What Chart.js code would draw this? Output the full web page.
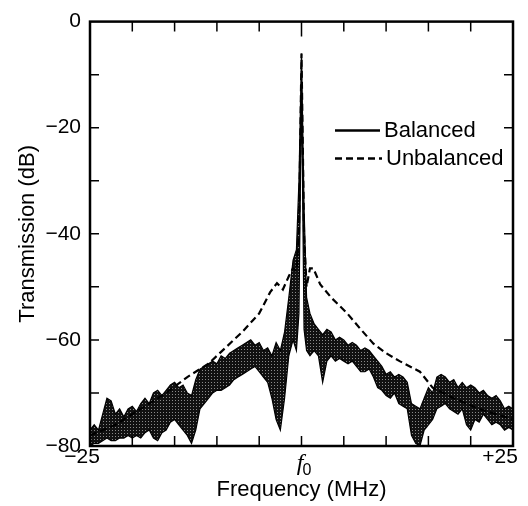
<!DOCTYPE html>
<html>
<head>
<meta charset="utf-8">
<script src="https://cdn.jsdelivr.net/npm/chart.js@4"></script>
<style>
  body { margin: 0; background: #fff; }
</style>
</head>
<body>
<canvas id="chart" width="528" height="506"></canvas>
<script>
// frequency offset from f0 (MHz) and the balanced trace envelope (dB)
const balFreq = [-25, -24.5, -24, -23.5, -23, -22.5, -22, -21.5, -21, -20.5, -20, -19.5, -19, -18.5, -18, -17.5, -17, -16.5, -16, -15.5, -15, -14.5, -14, -13.5, -13, -12.5, -12, -11.5, -11, -10.5, -10, -9.5, -9, -8.5, -8, -7.5, -7, -6.5, -6, -5.5, -5, -4.5, -4, -3.5, -3, -2.5, -2, -1.5, -1, -0.6, -0.3, 0, 0.3, 0.6, 1, 1.5, 2, 2.5, 3, 3.5, 4, 4.5, 5, 5.5, 6, 6.5, 7, 7.5, 8, 8.5, 9, 9.5, 10, 10.5, 11, 11.5, 12, 12.5, 13, 13.5, 14, 14.5, 15, 15.5, 16, 16.5, 17, 17.5, 18, 18.5, 19, 19.5, 20, 20.5, 21, 21.5, 22, 22.5, 23, 23.5, 24, 24.5, 25];
const balUpper = [-77, -76, -77, -74, -71, -71.5, -74, -73, -74.5, -73, -72.5, -73.5, -72, -71, -72, -70, -69.5, -70.5, -69.5, -68.5, -68, -69, -68.5, -70, -70.5, -67.5, -65.5, -65, -64.5, -64, -64.5, -63, -63.5, -62.5, -62, -61.5, -61, -60.5, -60, -61, -60.5, -62, -61.5, -63, -60.5, -62, -58.5, -52, -45, -43, -30, -6, -35, -52, -55, -57, -58, -59, -58, -58.5, -60, -59.5, -60, -61, -60.5, -61, -62, -61.5, -62, -63, -64, -65, -66.5, -66, -67, -66.5, -67, -68, -72, -72.5, -73, -71, -69, -70, -67, -66.5, -67, -68, -67.5, -69, -68, -69, -68.5, -69, -70, -69.5, -70.5, -71, -70.5, -71.5, -73, -72.5, -73];
const balLower = [-80, -79.5, -79.5, -79, -78.5, -79, -79, -78.5, -78.5, -78, -78.5, -78, -78.5, -77.5, -77, -78.5, -79, -77.5, -77, -75.5, -75, -76, -77, -78, -79.5, -77, -73, -72, -71, -70, -69.5, -69.5, -69, -68.5, -67.5, -67, -66.5, -66, -65.5, -65, -66, -67, -68, -71, -75, -77, -71, -63, -60, -62, -55, -12, -58, -62, -63, -62, -63, -68, -64, -63, -64, -63.5, -64, -64.5, -64, -65, -66, -66, -65.5, -67, -69, -69.5, -70.5, -71, -70, -72, -72.5, -73, -78, -79.5, -80, -77, -76, -75, -73, -72.5, -72, -73, -73.5, -74, -73, -76, -77, -75, -75.5, -74, -75, -76, -75.5, -76, -77, -76.5, -77];

// unbalanced trace
const unbFreq = [-25, -22, -19, -16, -13.5, -11, -9, -7, -5, -3.7, -2.9, -2.2, -1.5, -1, -0.6, -0.3, 0, 0.3, 0.6, 1, 1.4, 2.2, 3.5, 5.4, 7, 8.5, 10, 11.6, 14, 15.5, 18, 21, 25];
const unbDb = [-78, -76, -73, -70, -67, -64.5, -61.5, -58.5, -55, -51, -49.3, -50.5, -48, -46.5, -47, -40, -6, -40, -50, -46.5, -46.5, -49.5, -52, -55, -58, -60.7, -62.5, -64, -66, -69, -71, -73, -75];

// axis ticks
const xTickVals = [-25, -20, -15, -10, -5, 0, 5, 10, 15, 20, 25];
const yTickVals = [0, -10, -20, -30, -40, -50, -60, -70, -80];
const xLabelVals = [-25, 0, 25];
const xLabelText = ["\u221225", "f", "+25"];

const FONT = "Liberation Sans, Arial, Helvetica, sans-serif";

function pts(xs, ys) {
    return xs.map((v, i) => ({x: v, y: ys[i]}));
}

// dark stipple used for the noisy balanced band
function stipple() {
    const c = document.createElement("canvas");
    c.width = 3; c.height = 3;
    const g = c.getContext("2d");
    g.fillStyle = "#111";
    g.fillRect(0, 0, 3, 3);
    g.fillStyle = "#8a8a8a";
    g.fillRect(1, 1, 1, 1);
    return g.createPattern(c, "repeat");
}

//frame, inward ticks, x labels and legend
const decor = {
    id: "decor",
    afterDraw(chart) {
        const {ctx, chartArea: a, scales: {x, y}} = chart;
        ctx.save();
        ctx.strokeStyle = "#000";
        ctx.lineWidth = 1.5;
        ctx.beginPath();
        xTickVals.slice(1, -1).forEach(v => {
            const px = x.getPixelForValue(v);
            ctx.moveTo(px, a.bottom); ctx.lineTo(px, a.bottom - 10);
            ctx.moveTo(px, a.top); ctx.lineTo(px, a.top + (v === 0 ? 15 : 10));
        });
        yTickVals.slice(1, -1).forEach(v => {
            const py = y.getPixelForValue(v);
            ctx.moveTo(a.left, py); ctx.lineTo(a.left + 9, py);
            ctx.moveTo(a.right, py); ctx.lineTo(a.right - 9, py);
        });
        ctx.stroke();
        ctx.lineWidth = 2.5;
        ctx.strokeRect(a.left, a.top, a.right - a.left, a.bottom - a.top);

        // x tick labels
        ctx.fillStyle = "#000";
        ctx.textBaseline = "alphabetic";
        xLabelVals.forEach((v, i) => {
            const px = x.getPixelForValue(v);
            if (v === 0) {
                ctx.font = "italic 24px Liberation Serif, Times New Roman, serif";
                ctx.textAlign = "right";
                ctx.fillText(xLabelText[i], px + 2, 470);
                ctx.font = "16px " + FONT;
                ctx.textAlign = "left";
                ctx.fillText("0", px + 1, 475);
            } else {
                ctx.font = "21px " + FONT;
                ctx.textAlign = "center";
                ctx.fillText(xLabelText[i], px + (v < 0 ? -8 : -13), 463);
            }
        });

        // legend
        const lx = a.left + 245;
        ctx.font = "22px " + FONT;
        ctx.textAlign = "left";
        ctx.textBaseline = "middle";
        ctx.lineWidth = 2.5;
        ctx.beginPath();
        ctx.moveTo(lx, a.top + 109); ctx.lineTo(lx + 45, a.top + 109);
        ctx.stroke();
        ctx.fillText("Balanced", lx + 49, a.top + 109);
        ctx.setLineDash([7, 4]);
        ctx.beginPath();
        ctx.moveTo(lx, a.top + 137); ctx.lineTo(lx + 47, a.top + 137);
        ctx.stroke();
        ctx.setLineDash([]);
        ctx.fillText("Unbalanced", lx + 51, a.top + 137);
        ctx.restore();
    }
};

new Chart(document.getElementById("chart"), {
    type: "line",
    data: {
        datasets: [
            {
                label: "Unbalanced",
                data: pts(unbFreq, unbDb),
                borderColor: "#000",
                borderWidth: 2.2,
                borderDash: [7, 4],
                pointRadius: 0,
                fill: false
            },
            {
                label: "Balanced",
                data: pts(balFreq, balUpper),
                borderColor: "#000",
                borderWidth: 1.2,
                pointRadius: 0,
                fill: false
            },
            {
                label: "Balanced (lower)",
                data: pts(balFreq, balLower),
                borderColor: "#000",
                borderWidth: 1.2,
                pointRadius: 0,
                backgroundColor: stipple(),
                fill: "-1"
            }
        ]
    },
    options: {
        responsive: false,
        animation: false,
        layout: {padding: {left: 0, top: 18, right: 15, bottom: 0}},
        plugins: {legend: {display: false}, tooltip: {enabled: false}},
        scales: {
            x: {
                type: "linear",
                min: -25,
                max: 25,
                grid: {display: false, drawTicks: false},
                border: {display: false},
                ticks: {display: false},
                title: {display: true, text: "Frequency (MHz)", color: "#000",
                        font: {family: FONT, size: 22}, padding: {top: 0, bottom: 3}},
                afterFit: s => { s.height = 60; }
            },
            y: {
                min: -80,
                max: 0,
                grid: {display: false, drawTicks: false},
                border: {display: false},
                afterBuildTicks: s => { s.ticks = yTickVals.map(v => ({value: v})); },
                ticks: {
                    color: "#000",
                    padding: 9,
                    font: {family: FONT, size: 21},
                    callback: v => v % 20 === 0 ? (v < 0 ? "\u2212" + Math.abs(v) : String(v)) : ""
                },
                title: {display: true, text: "Transmission (dB)", color: "#000",
                        font: {family: FONT, size: 22}, padding: {top: 15, bottom: 0}},
                afterFit: s => { s.width = 90; }
            }
        }
    },
    plugins: [decor]
});
</script>
</body>
</html>
